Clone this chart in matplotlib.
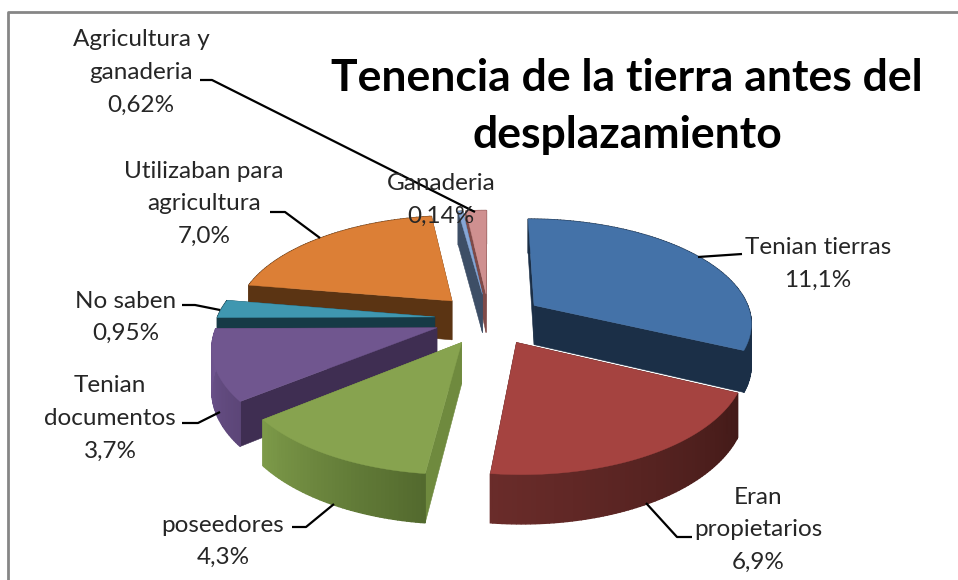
import numpy as np
import matplotlib
matplotlib.use('Agg')
import matplotlib.pyplot as plt
from matplotlib.colors import to_rgb
from matplotlib.patches import Polygon

plt.rcParams['font.family'] = ['Lato', 'DejaVu Sans']

categories = ['Tenian tierras', 'Eran propietarios', 'poseedores', 'Tenian documentos',
              'No saben', 'Utilizaban para agricultura', 'Ganaderia', 'Agricultura y ganaderia']
values = [11.1, 6.9, 4.3, 3.7, 0.95, 7.0, 0.14, 0.62]
value_labels = ['11,1%', '6,9%', '4,3%', '3,7%', '0,95%', '7,0%', '0,14%', '0,62%']

top_colors = ['#4472a8', '#a54340', '#87a34f', '#70568f', '#3f97b0', '#dc7f36', '#86a6d6', '#cf9090']
cut_colors = ['#1b2f47', '#431a18', '#6f8a3e', '#3f2e52', '#163a46', '#5b3413', '#3d4e66', '#7f4a48']
wall_left = ['#1b2f47', '#6a2c2a', '#7d9a49', '#6f5590', '#163a46', '#5b3413', '#3d4e66', '#7f4a48']
wall_right = ['#1b2f47', '#431a18', '#536a2e', '#5c4678', '#163a46', '#5b3413', '#3d4e66', '#7f4a48']

# label text position (centre x, first line y), and leader line points
label_pos = [(818, 248), (758, 497), (223, 525), (110, 386), (126, 301), (204, 171), (441, 184), (141, 40)]
leaders = [
    [(742, 254), (698, 257)],
    [(692, 537), (677, 537), (646, 503)],
    [(292, 527), (306, 527), (334, 504)],
    [(182, 423), (198, 423), (220, 412)],
    [(182, 305), (195, 305), (220, 310)],
    [(270, 212), (285, 212), (320, 238)],
    [],
    [(200, 80), (212, 80), (475, 212)],
]
LINE_H = 32.5

# pie projection settings, in pixels
CX, CY = 489, 319
RX, RY = 218, 103.6
PERSP = 0.155
EXPLODE = 0.25
DEPTH = 40


def project(x, y):
    w = 1 + PERSP * y
    return CX + RX * x / w, CY - RY * y / w, DEPTH / w


def slice_points(a0, a1, off):
    angles = np.radians(np.arange(a0, a1, 1.0).tolist() + [a1])
    xs = off[0] + np.sin(angles)
    ys = off[1] + np.cos(angles)
    return project(xs, ys)


def draw_slice(ax, a0, a1, i):
    mid = np.radians((a0 + a1) / 2)
    off = (EXPLODE * np.sin(mid), EXPLODE * np.cos(mid))
    ax_, ay_, ad = project(off[0], off[1])
    sx, sy, sd = slice_points(a0, a1, off)

    # the two cut faces
    for k in (-1, 0):
        quad = [(ax_, ay_), (sx[k], sy[k]), (sx[k], sy[k] + sd[k]), (ax_, ay_ + ad)]
        ax.add_patch(Polygon(quad, closed=True, fc=cut_colors[i], ec=cut_colors[i], lw=0.4))

    # outer wall, shaded from right to left
    c_r, c_l = np.array(to_rgb(wall_right[i])), np.array(to_rgb(wall_left[i]))
    for j in range(len(sx) - 1):
        col = tuple(c_r + (c_l - c_r) * j / max(len(sx) - 2, 1))
        quad = [(sx[j], sy[j]), (sx[j + 1], sy[j + 1]),
                (sx[j + 1], sy[j + 1] + sd[j + 1]), (sx[j], sy[j] + sd[j])]
        ax.add_patch(Polygon(quad, closed=True, fc=col, ec=col, lw=1.0))

    top = [(ax_, ay_)] + list(zip(sx, sy))
    ax.add_patch(Polygon(top, closed=True, fc=top_colors[i], ec=top_colors[i], lw=0.3))


fig = plt.figure(figsize=(9.58, 5.80), dpi=100)
ax = fig.add_axes([0, 0, 1, 1])
ax.set_xlim(0, 958)
ax.set_ylim(580, 0)
ax.axis('off')

# chart frame
ax.plot([8.5, 8.5, 958], [580, 11.5, 11.5], color='#868686', lw=2)

total = sum(values)
edges = np.concatenate([[0], np.cumsum(values)]) / total * 360

# paint from the back of the pie to the front
mids = (edges[:-1] + edges[1:]) / 2
order = np.argsort(-np.cos(np.radians(mids)), kind='stable')
for i in order:
    draw_slice(ax, edges[i], edges[i + 1], i)

for i, name in enumerate(categories):
    if leaders[i]:
        xs, ys = zip(*leaders[i])
        ax.plot(xs, ys, color='black', lw=1.6, solid_capstyle='butt')

label_lines = [
    ['Tenian tierras'], ['Eran', 'propietarios'], ['poseedores'], ['Tenian', 'documentos'],
    ['No saben'], ['Utilizaban para', 'agricultura'], ['Ganaderia'], ['Agricultura y', 'ganaderia'],
]
for i, lines in enumerate(label_lines):
    x, y = label_pos[i]
    for n, line in enumerate(lines + [value_labels[i]]):
        ax.text(x, y + n * LINE_H, line, ha='center', va='center', fontsize=17.5, color='#262626')

ax.text(627, 78, 'Tenencia de la tierra antes del', ha='center', va='center',
        fontsize=32, fontweight='bold', color='black')
ax.text(627, 135, 'desplazamiento', ha='center', va='center',
        fontsize=32, fontweight='bold', color='black')

fig.savefig('out.png', dpi=100)
